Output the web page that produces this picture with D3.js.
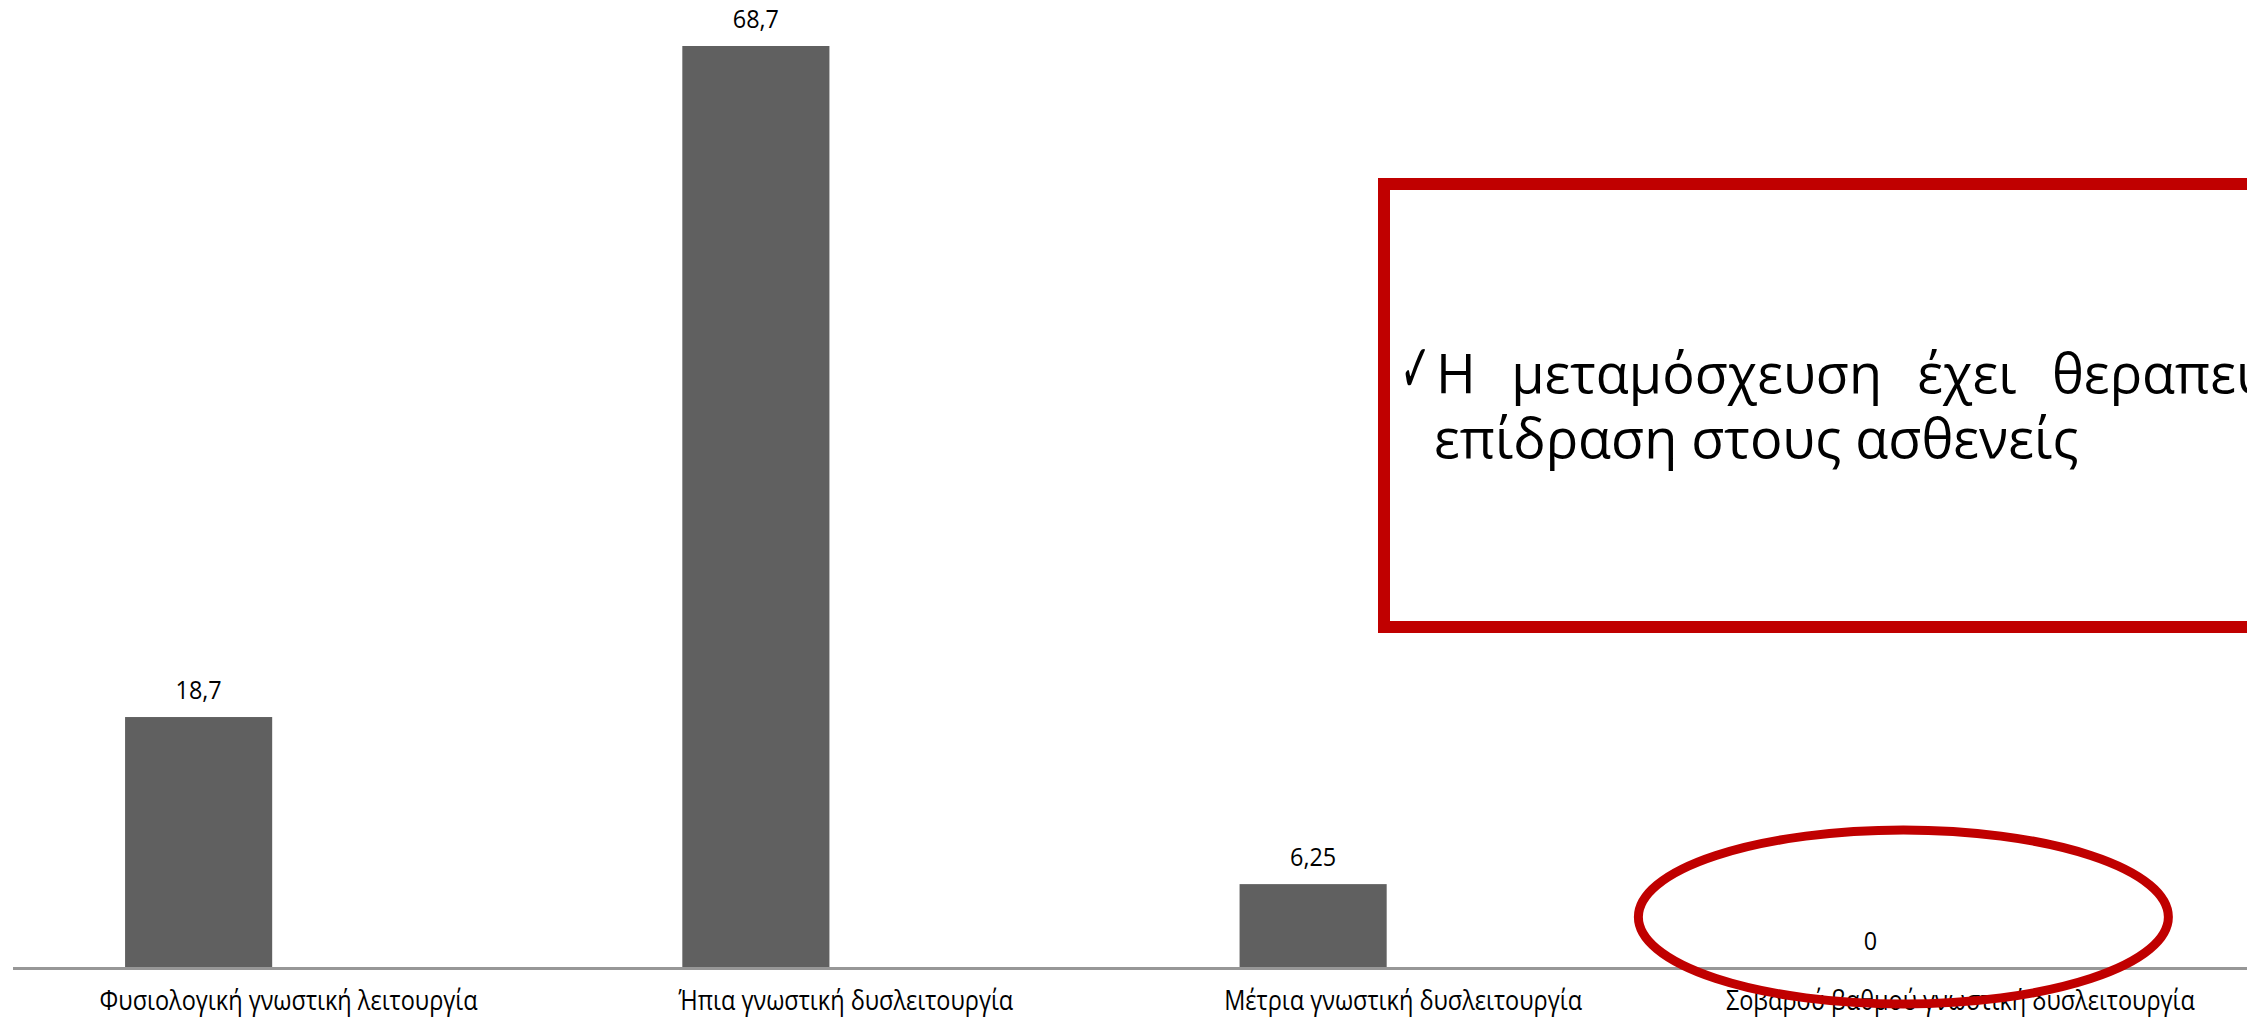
<!DOCTYPE html>
<html>
<head>
<meta charset="utf-8">
<script src="https://cdn.jsdelivr.net/npm/d3@7"></script>
<style>
  html, body { margin: 0; padding: 0; background: #ffffff; overflow: hidden; }
  svg { display: block; }
</style>
</head>
<body>
<svg id="chart" width="2247" height="1017"></svg>
<script>
// Cognitive function after transplantation (% of patients)
const categories = [
  "Φυσιολογική γνωστική λειτουργία",
  "Ήπια γνωστική δυσλειτουργία",
  "Μέτρια γνωστική δυσλειτουργία",
  "Σοβαρού βαθμού γνωστική δυσλειτουργία"
];
const values = [18.7, 68.7, 6.25, 0];
const valueLabels = ["18,7", "68,7", "6,25", "0"];

const noteLine1 = "Η μεταμόσχευση έχει θεραπευτική";
const noteLine2 = "επίδραση στους ασθενείς";
const checkMark = "✓";

const W = 2247, H = 1017;
const FONT = "'Open Sans', 'Noto Sans', sans-serif";
const RED = "#C00000";

const svg = d3.select("#chart");
svg.append("rect").attr("width", W).attr("height", H).attr("fill", "#ffffff");

const x = d3.scaleBand()
  .domain(categories)
  .range([-80, 2149])
  .paddingInner(0.736)
  .paddingOuter(0.368);

const y = d3.scaleLinear()
  .domain([0, 68.7])
  .range([968, 46]);

// condense a text element to a fraction of its natural width
function condense(sel, factor) {
  sel.each(function () {
    const w = this.getComputedTextLength();
    d3.select(this).attr("textLength", w * factor).attr("lengthAdjust", "spacingAndGlyphs");
  });
}

// bars
svg.append("g").selectAll("rect")
  .data(values)
  .join("rect")
  .attr("x", (d, i) => x(categories[i]))
  .attr("y", d => y(d))
  .attr("width", x.bandwidth())
  .attr("height", d => y(0) - y(d))
  .attr("fill", "#606060");

// baseline
svg.append("line")
  .attr("x1", 13).attr("x2", W)
  .attr("y1", y(0) + 0.5).attr("y2", y(0) + 0.5)
  .attr("stroke", "#979797")
  .attr("stroke-width", 3);

// value labels
svg.append("g").selectAll("text")
  .data(values)
  .join("text")
  .attr("x", (d, i) => x(categories[i]) + x.bandwidth() / 2)
  .attr("y", d => y(d) - 18)
  .attr("text-anchor", "middle")
  .attr("font-family", FONT)
  .attr("font-size", 26)
  .attr("fill", "#000")
  .text((d, i) => valueLabels[i])
  .call(condense, 0.9);

// category labels (set slightly to the right of each bar)
const labelShift = 90;
svg.append("g").selectAll("text")
  .data(categories)
  .join("text")
  .attr("x", d => x(d) + x.bandwidth() / 2 + labelShift)
  .attr("y", 1010)
  .attr("text-anchor", "middle")
  .attr("font-family", FONT)
  .attr("font-size", 27)
  .attr("fill", "#000")
  .text(d => d)
  .call(condense, 0.87);

// note box
svg.append("rect")
  .attr("x", 1384).attr("y", 184)
  .attr("width", 1000).attr("height", 443)
  .attr("fill", "none")
  .attr("stroke", RED)
  .attr("stroke-width", 12);

// note text
const note = svg.append("g").attr("font-family", FONT).attr("fill", "#000");
note.append("text")
  .attr("transform", "translate(1400,392) scale(0.55,1)")
  .attr("font-family", "'DejaVu Sans', sans-serif")
  .attr("font-size", 68)
  .text(checkMark);

const lineStart = 1436, lastWordStart = 2052;

// first line is justified: spread words so the last one begins at lastWordStart
const l1 = note.append("text")
  .attr("x", lineStart).attr("y", 393)
  .attr("font-size", 54)
  .text(noteLine1);
const words = noteLine1.split(" ");
const probe = note.append("text").attr("font-size", 54);
const wordW = words.map(w => { probe.text(w); return probe.node().getComputedTextLength(); });
probe.text("a a");
const withSpace = probe.node().getComputedTextLength();
probe.text("aa");
const spaceW = withSpace - probe.node().getComputedTextLength();
probe.remove();
const extra = (lastWordStart - lineStart - d3.sum(wordW.slice(0, -1))) / (words.length - 1) - spaceW;
l1.attr("word-spacing", extra);

note.append("text")
  .attr("x", lineStart - 2).attr("y", 458)
  .attr("font-size", 54)
  .text(noteLine2);

// highlight ellipse around the zero category
svg.append("ellipse")
  .attr("cx", x(categories[3]) + x.bandwidth() / 2 + 33)
  .attr("cy", 917)
  .attr("rx", 265).attr("ry", 87)
  .attr("fill", "none")
  .attr("stroke", RED)
  .attr("stroke-width", 9);
</script>
</body>
</html>
